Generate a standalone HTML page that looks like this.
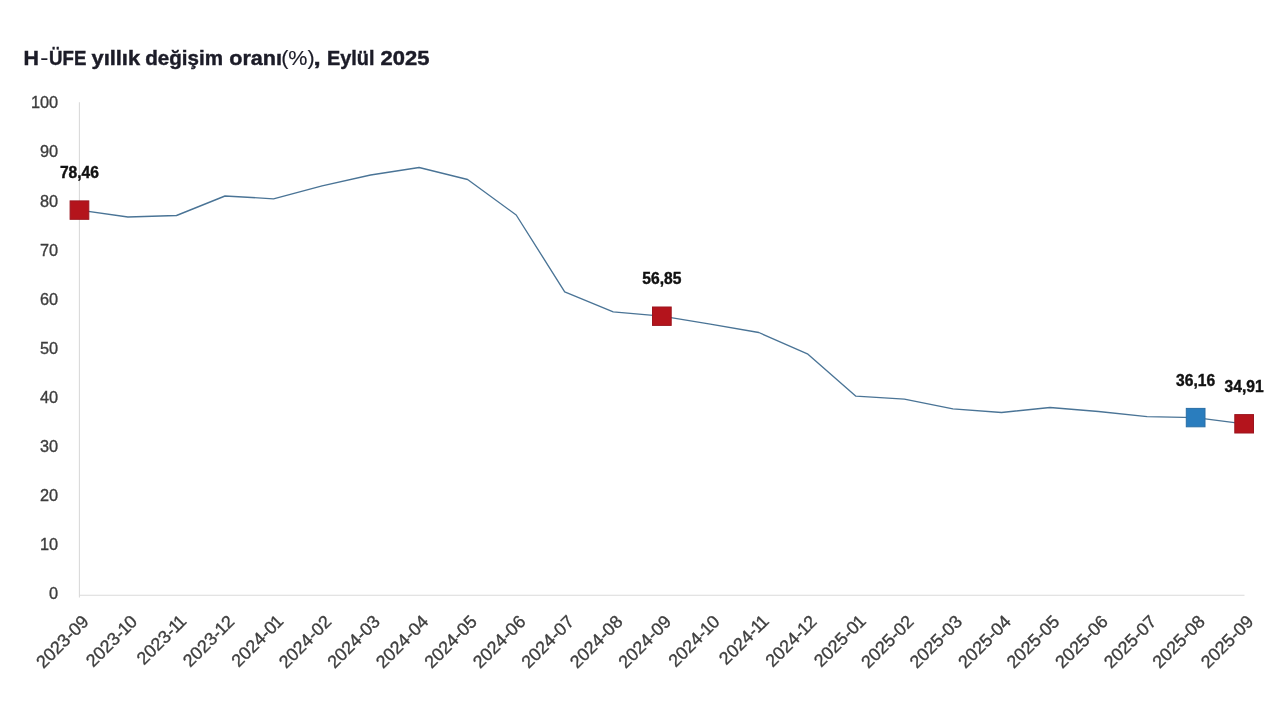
<!DOCTYPE html>
<html><head><meta charset="utf-8"><title>H-ÜFE</title>
<style>
html,body{margin:0;padding:0;background:#fff;}
body{width:1280px;height:720px;overflow:hidden;font-family:"Liberation Sans",sans-serif;}
svg{display:block;will-change:transform;}
svg text{font-family:"Liberation Sans",sans-serif;}
.yl{font-size:16.3px;fill:#3e3e3e;stroke:#3e3e3e;stroke-width:0.35px;text-anchor:end;}
.xl{font-size:17.9px;fill:#3e3e3e;stroke:#3e3e3e;stroke-width:0.35px;text-anchor:end;}
.dl{font-size:15.6px;font-weight:bold;fill:#111;stroke:#111;stroke-width:0.4px;text-anchor:middle;}
.ttl{font-size:21px;font-weight:bold;fill:#1c1c28;stroke:#1c1c28;stroke-width:0.45px;}
</style></head><body>
<svg width="1280" height="720" viewBox="0 0 1280 720">
<rect width="1280" height="720" fill="#ffffff"/>
<text class="ttl" x="23.60" y="65.4" textLength="15.40" lengthAdjust="spacingAndGlyphs">H</text>
<text class="ttl" style="font-weight:normal;stroke-width:0.15px" x="40.20" y="65.4" textLength="8.10" lengthAdjust="spacingAndGlyphs">-</text>
<text class="ttl" x="49.10" y="65.4" textLength="37.20" lengthAdjust="spacingAndGlyphs">ÜFE</text>
<text class="ttl" x="91.50" y="65.4" textLength="48.60" lengthAdjust="spacingAndGlyphs">yıllık</text>
<text class="ttl" x="145.30" y="65.4" textLength="77.70" lengthAdjust="spacingAndGlyphs">değişim</text>
<text class="ttl" x="229.30" y="65.4" textLength="52.70" lengthAdjust="spacingAndGlyphs">oranı</text>
<text class="ttl" style="font-weight:normal;stroke-width:0.15px" x="281.20" y="65.4" textLength="33.50" lengthAdjust="spacingAndGlyphs">(%)</text>
<text class="ttl" x="313.50" y="65.4" textLength="7.20" lengthAdjust="spacingAndGlyphs">,</text>
<text class="ttl" x="327.00" y="65.4" textLength="47.50" lengthAdjust="spacingAndGlyphs">Eylül</text>
<text class="ttl" x="380.60" y="65.4" textLength="48.90" lengthAdjust="spacingAndGlyphs">2025</text>
<line x1="79.4" y1="102.3" x2="79.4" y2="597.5" stroke="#dadada" stroke-width="1.1"/>
<line x1="79" y1="595.3" x2="1244.5" y2="595.3" stroke="#dadada" stroke-width="1.1"/>
<text class="yl" x="58.1" y="599.3">0</text>
<text class="yl" x="58.1" y="550.2">10</text>
<text class="yl" x="58.1" y="501.1">20</text>
<text class="yl" x="58.1" y="452.0">30</text>
<text class="yl" x="58.1" y="402.9">40</text>
<text class="yl" x="58.1" y="353.8">50</text>
<text class="yl" x="58.1" y="304.7">60</text>
<text class="yl" x="58.1" y="255.6">70</text>
<text class="yl" x="58.1" y="206.5">80</text>
<text class="yl" x="58.1" y="157.4">90</text>
<text class="yl" x="58.1" y="108.3">100</text>
<path d="M79.4,210.1 L127.9,217.0 L176.5,215.5 L225.0,196.0 L273.5,198.8 L322.1,185.8 L370.6,175.0 L419.1,167.5 L467.6,179.5 L516.2,215.0 L564.7,291.8 L613.2,311.8 L661.8,316.2 L710.3,324.2 L758.8,332.5 L807.4,353.8 L855.9,396.2 L904.4,399.2 L952.9,408.8 L1001.5,412.5 L1050.0,407.5 L1098.5,411.5 L1147.1,416.7 L1195.6,417.6 L1244.1,423.8" fill="none" stroke="#4a7496" stroke-width="1.35" stroke-linejoin="round"/>
<rect x="70.1" y="200.9" width="18.7" height="18.4" fill="#b4141c" stroke="#9c141e" stroke-width="1"/>
<text class="dl" x="79.4" y="178.1">78,46</text>
<rect x="652.5" y="307.0" width="18.7" height="18.4" fill="#b4141c" stroke="#9c141e" stroke-width="1"/>
<text class="dl" x="661.8" y="284.2">56,85</text>
<rect x="1186.3" y="408.4" width="18.7" height="18.4" fill="#2a7dbe" stroke="#2a6ea6" stroke-width="1"/>
<text class="dl" x="1195.6" y="385.6">36,16</text>
<rect x="1234.8" y="414.6" width="18.7" height="18.4" fill="#b4141c" stroke="#9c141e" stroke-width="1"/>
<text class="dl" x="1244.1" y="391.8">34,91</text>
<text class="xl" transform="translate(89.9,622.8) rotate(-45)">2023-09</text>
<text class="xl" transform="translate(138.4,622.8) rotate(-45)">2023-<tspan dx="-0.9" letter-spacing="-0.9">1</tspan>0</text>
<text class="xl" transform="translate(187.0,622.8) rotate(-45)">2023-<tspan dx="-0.9" letter-spacing="-0.9">1</tspan><tspan dx="-0.9" letter-spacing="-0.9">1</tspan></text>
<text class="xl" transform="translate(235.5,622.8) rotate(-45)">2023-<tspan dx="-0.9" letter-spacing="-0.9">1</tspan>2</text>
<text class="xl" transform="translate(284.0,622.8) rotate(-45)">2024-0<tspan dx="-0.9" letter-spacing="-0.9">1</tspan></text>
<text class="xl" transform="translate(332.6,622.8) rotate(-45)">2024-02</text>
<text class="xl" transform="translate(381.1,622.8) rotate(-45)">2024-03</text>
<text class="xl" transform="translate(429.6,622.8) rotate(-45)">2024-04</text>
<text class="xl" transform="translate(478.1,622.8) rotate(-45)">2024-05</text>
<text class="xl" transform="translate(526.7,622.8) rotate(-45)">2024-06</text>
<text class="xl" transform="translate(575.2,622.8) rotate(-45)">2024-07</text>
<text class="xl" transform="translate(623.7,622.8) rotate(-45)">2024-08</text>
<text class="xl" transform="translate(672.3,622.8) rotate(-45)">2024-09</text>
<text class="xl" transform="translate(720.8,622.8) rotate(-45)">2024-<tspan dx="-0.9" letter-spacing="-0.9">1</tspan>0</text>
<text class="xl" transform="translate(769.3,622.8) rotate(-45)">2024-<tspan dx="-0.9" letter-spacing="-0.9">1</tspan><tspan dx="-0.9" letter-spacing="-0.9">1</tspan></text>
<text class="xl" transform="translate(817.9,622.8) rotate(-45)">2024-<tspan dx="-0.9" letter-spacing="-0.9">1</tspan>2</text>
<text class="xl" transform="translate(866.4,622.8) rotate(-45)">2025-0<tspan dx="-0.9" letter-spacing="-0.9">1</tspan></text>
<text class="xl" transform="translate(914.9,622.8) rotate(-45)">2025-02</text>
<text class="xl" transform="translate(963.4,622.8) rotate(-45)">2025-03</text>
<text class="xl" transform="translate(1012.0,622.8) rotate(-45)">2025-04</text>
<text class="xl" transform="translate(1060.5,622.8) rotate(-45)">2025-05</text>
<text class="xl" transform="translate(1109.0,622.8) rotate(-45)">2025-06</text>
<text class="xl" transform="translate(1157.6,622.8) rotate(-45)">2025-07</text>
<text class="xl" transform="translate(1206.1,622.8) rotate(-45)">2025-08</text>
<text class="xl" transform="translate(1254.6,622.8) rotate(-45)">2025-09</text>
</svg>
</body></html>
